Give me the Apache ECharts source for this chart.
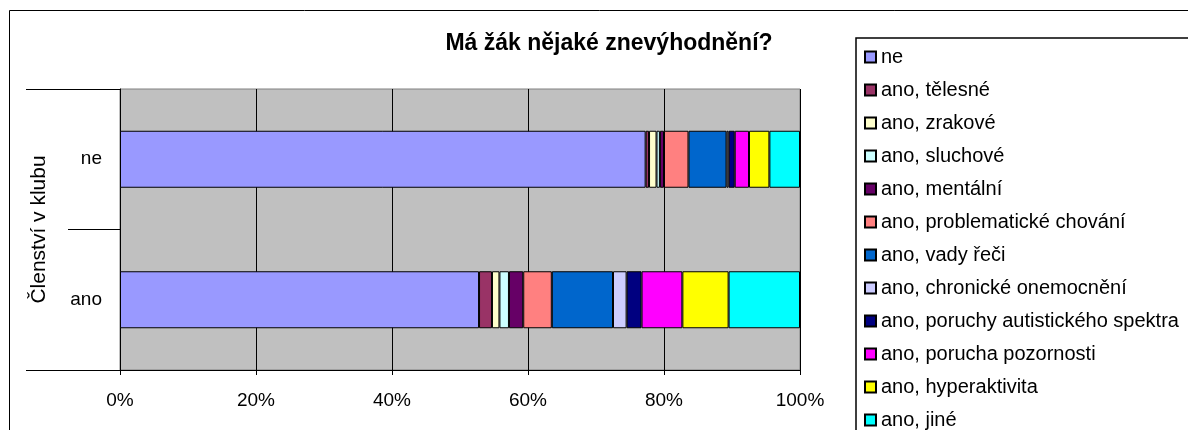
<!DOCTYPE html>
<html>
<head>
<meta charset="utf-8">
<script src="https://cdn.jsdelivr.net/npm/echarts@6/dist/echarts.min.js"></script>
<style>
  html, body { margin: 0; padding: 0; background: #fff; }
  #chart { width: 1188px; height: 430px; }
</style>
</head>
<body>
<div id="chart"></div>
<script>
// categories (bottom to top)
const categories = ["ano", "ne"];
const xTicks = [0, 20, 40, 60, 80, 100];

const seriesNames = [
  "ne",
  "ano, tělesné",
  "ano, zrakové",
  "ano, sluchové",
  "ano, mentální",
  "ano, problematické chování",
  "ano, vady řeči",
  "ano, chronické onemocnění",
  "ano, poruchy autistického spektra",
  "ano, porucha pozornosti",
  "ano, hyperaktivita",
  "ano, jiné"
];
const seriesColors = [
  "#9999FF", "#993366", "#FFFFCC", "#CCFFFF", "#660066", "#FF8080",
  "#0066CC", "#CCCCFF", "#000080", "#FF00FF", "#FFFF00", "#00FFFF"
];

// percent share per category: [ano, ne]
const valNe = [52.8, 77.3];
const valTelesne = [1.9, 0.5];
const valZrakove = [1.1, 1.1];
const valSluchove = [1.4, 0.5];
const valMentalni = [2.1, 0.6];
const valChovani = [4.2, 3.6];
const valReci = [9.0, 5.6];
const valChronicke = [2.0, 0.3];
const valAutisticke = [2.2, 0.9];
const valPozornost = [6.0, 2.1];
const valHyperaktivita = [6.8, 3.0];
const valJine = [10.5, 4.5];

const seriesValues = [
  valNe, valTelesne, valZrakove, valSluchove, valMentalni, valChovani,
  valReci, valChronicke, valAutisticke, valPozornost, valHyperaktivita, valJine
];

const FONT = "Liberation Sans, Arial, sans-serif";
const chart = echarts.init(document.getElementById("chart"));

const series = seriesNames.map((name, i) => ({
  type: "bar",
  name,
  stack: "total",
  barWidth: 57,
  yAxisIndex: 0,
  itemStyle: { color: seriesColors[i], borderColor: "#000", borderWidth: 1 },
  emphasis: { disabled: true },
  data: seriesValues[i]
}));

chart.setOption({
  animation: false,
  textStyle: { fontFamily: FONT, color: "#000" },
  title: {
    text: "Má žák nějaké znevýhodnění?",
    left: 604,
    top: 27,
    textAlign: "center",
    textStyle: { fontSize: 23, fontWeight: "bold", color: "#000", fontFamily: FONT }
  },
  graphic: [{
    type: "rect",
    shape: { x: 9.5, y: 10.5, width: 1200, height: 440 },
    style: { fill: "none", stroke: "#000", lineWidth: 1 },
    silent: true
  }],
  legend: {
    orient: "vertical",
    left: 856,
    top: 38,
    height: 600,
    padding: [8, 40, 40, 8],
    borderColor: "#000",
    borderWidth: 1.5,
    itemWidth: 11,
    itemHeight: 11,
    itemGap: 11,
    icon: "rect",
    selectedMode: false,
    textStyle: { fontSize: 20, color: "#000", lineHeight: 22, fontFamily: FONT },
    data: seriesNames
  },
  grid: {
    left: 120,
    right: 388,
    top: 89,
    bottom: 60,
    show: true,
    backgroundColor: "#C0C0C0",
    borderColor: "#808080",
    borderWidth: 1
  },
  xAxis: {
    type: "value",
    min: 0,
    max: 100,
    interval: 20,
    axisLine: { show: true, lineStyle: { color: "#000", width: 1 } },
    axisTick: { show: true, length: 5, lineStyle: { color: "#000" } },
    splitLine: { show: true, lineStyle: { color: "#000", width: 1 } },
    axisLabel: {
      formatter: v => (xTicks.includes(v) ? v + "%" : ""),
      fontSize: 19,
      color: "#000",
      margin: 21
    }
  },
  yAxis: [{
    type: "category",
    data: categories,
    name: "Členství v klubu",
    nameLocation: "middle",
    nameRotate: 90,
    nameGap: 70,
    nameTextStyle: { fontSize: 21, color: "#000" },
    axisLine: { show: true, lineStyle: { color: "#000" } },
    axisTick: { show: true, length: 52, lineStyle: { color: "#000" } },
    axisLabel: { fontSize: 19, color: "#000", margin: 18 },
    splitLine: { show: false }
  }, {
    type: "category",
    position: "left",
    data: [""],
    axisLine: { show: false },
    axisTick: { show: true, length: 94, lineStyle: { color: "#000" } },
    axisLabel: { show: false },
    splitLine: { show: false }
  }],
  series
});
</script>
</body>
</html>
